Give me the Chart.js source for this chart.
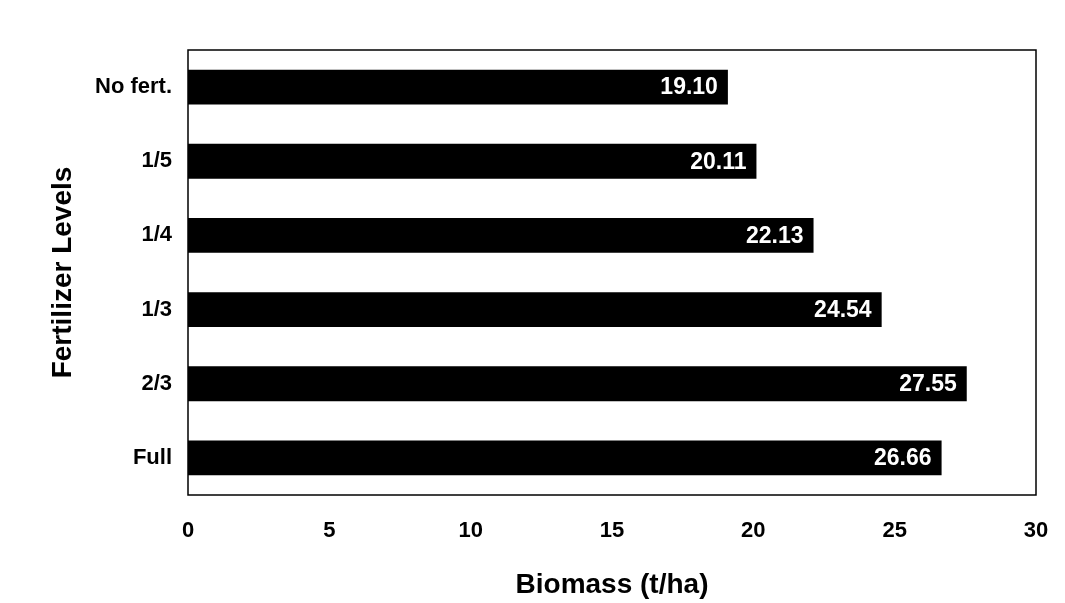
<!DOCTYPE html>
<html>
<head>
<meta charset="utf-8">
<script src="https://cdn.jsdelivr.net/npm/chart.js@4.4.1/dist/chart.umd.min.js"></script>
<style>
  html, body { margin: 0; padding: 0; background: #ffffff; }
  #wrap { width: 1065px; height: 603px; position: relative; }
</style>
</head>
<body>
<div id="wrap"><canvas id="c" width="1065" height="603"></canvas></div>
<script>
const categories = ["No fert.", "1/5", "1/4", "1/3", "2/3", "Full"];
const biomass = [19.10, 20.11, 22.13, 24.54, 27.55, 26.66];
const xTicks = [0, 5, 10, 15, 20, 25, 30];

const FONT = "'Liberation Sans', Arial, sans-serif";

const boxAndLabels = {
  id: 'boxAndLabels',
  afterDatasetsDraw(chart) {
    const ctx = chart.ctx;
    const a = chart.chartArea;
    ctx.save();
    ctx.strokeStyle = '#000';
    ctx.lineWidth = 1.5;
    ctx.strokeRect(a.left, a.top, a.right - a.left, a.bottom - a.top);
    const meta = chart.getDatasetMeta(0);
    ctx.fillStyle = '#fff';
    ctx.font = 'bold 23px ' + FONT;
    ctx.textAlign = 'right';
    ctx.textBaseline = 'middle';
    meta.data.forEach((bar, i) => {
      ctx.fillText(biomass[i].toFixed(2), bar.x - 10, bar.y + 1);
    });
    ctx.restore();
  }
};

new Chart(document.getElementById('c'), {
  type: 'bar',
  data: {
    labels: categories,
    datasets: [{
      data: biomass,
      backgroundColor: '#000000',
      borderWidth: 0,
      barPercentage: 0.47,
      categoryPercentage: 1.0
    }]
  },
  plugins: [boxAndLabels],
  options: {
    indexAxis: 'y',
    responsive: false,
    animation: false,
    layout: { padding: { left: 0, right: 29, top: 50, bottom: 0 } },
    plugins: { legend: { display: false }, tooltip: { enabled: false } },
    scales: {
      x: {
        min: 0, max: 30,
        afterBuildTicks(scale) { scale.ticks = xTicks.map(v => ({ value: v })); },
        afterFit(scale) { scale.height = 108; scale.paddingLeft = 0; scale.paddingRight = 0; },
        grid: { display: false, drawTicks: false },
        border: { display: false },
        ticks: { color: '#000', padding: 23, font: { family: FONT, size: 22, weight: 'bold' } },
        title: {
          display: true, text: 'Biomass (t/ha)', color: '#000',
          font: { family: FONT, size: 28, weight: 'bold', lineHeight: 1 },
          padding: { top: 0, bottom: 4 }
        }
      },
      y: {
        afterFit(scale) { scale.width = 188; scale.paddingTop = 0; scale.paddingBottom = 0; },
        grid: { display: false, drawTicks: false },
        border: { display: false },
        ticks: { color: '#000', padding: 16, font: { family: FONT, size: 22, weight: 'bold' } },
        title: {
          display: true, text: 'Fertilizer Levels', color: '#000',
          font: { family: FONT, size: 28, weight: 'bold', lineHeight: 1 },
          padding: { top: 49, bottom: 0 }
        }
      }
    }
  }
});
</script>
</body>
</html>
